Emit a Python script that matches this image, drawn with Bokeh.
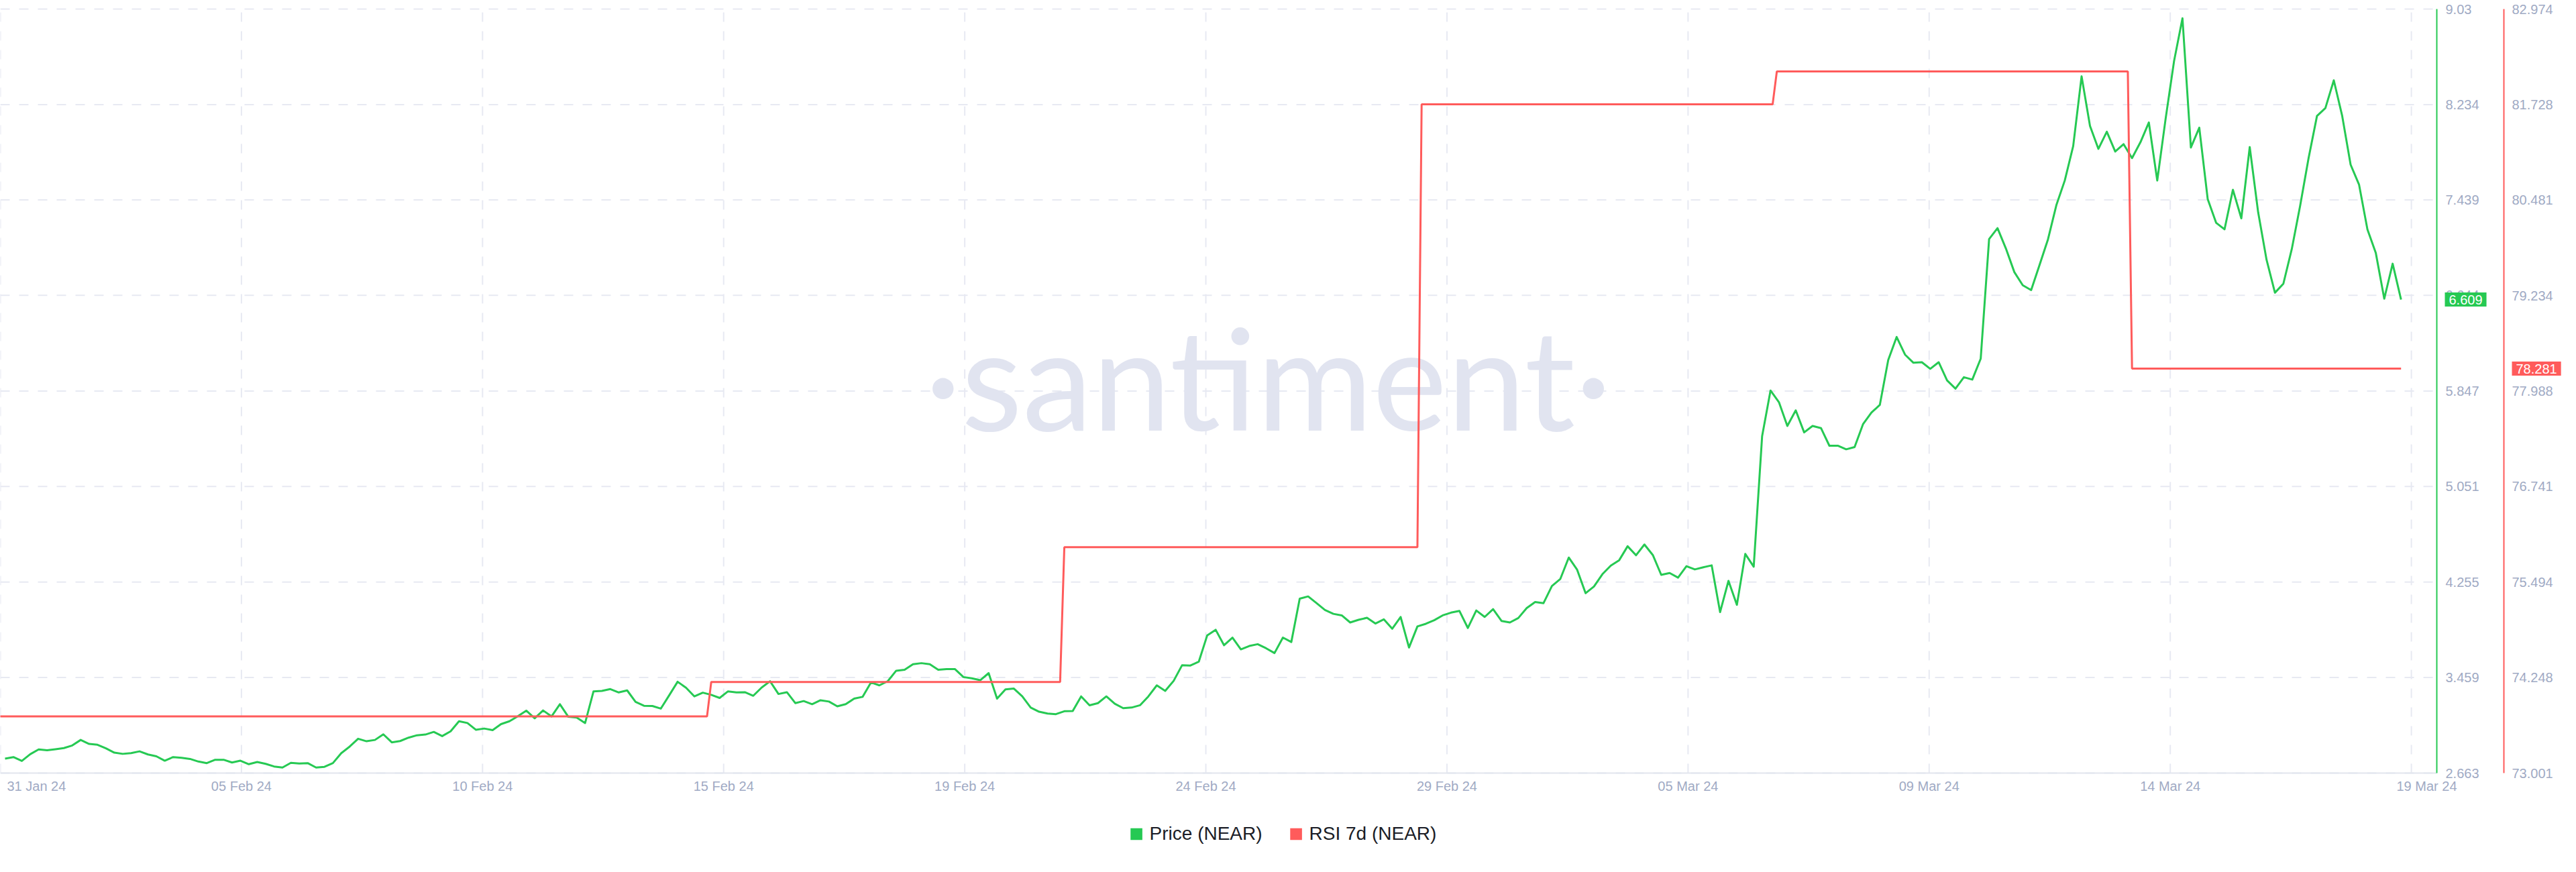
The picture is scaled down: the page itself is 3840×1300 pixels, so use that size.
import pandas as pd
from bokeh.plotting import figure
from bokeh.models import (Range1d, LinearAxis, FixedTicker, Legend, LegendItem, Label)
from bokeh.embed import file_html
from bokeh.resources import INLINE

# ---------------- data ----------------
price_start = "2024-01-31 19:00"
price_step_hours = 4
price_values = [
    2.783, 2.796, 2.764, 2.820, 2.860, 2.853, 2.862, 2.871, 2.893, 2.939,
    2.906, 2.899, 2.869, 2.833, 2.823, 2.829, 2.844, 2.818, 2.803, 2.766,
    2.796, 2.790, 2.781, 2.759, 2.746, 2.774, 2.774, 2.751, 2.766, 2.737,
    2.755, 2.740, 2.718, 2.709, 2.748, 2.742, 2.746, 2.709, 2.715, 2.746,
    2.829, 2.884, 2.949, 2.928, 2.939, 2.986, 2.919, 2.930,
    2.958, 2.978, 2.984, 3.006, 2.971, 3.011, 3.095, 3.080, 3.024, 3.034,
    3.021, 3.071, 3.095, 3.137, 3.183, 3.119, 3.185, 3.135, 3.237, 3.132,
    3.126, 3.080, 3.344, 3.348, 3.363, 3.335, 3.352, 3.256, 3.224, 3.222,
    3.200, 3.311, 3.424, 3.374, 3.302, 3.333, 3.315, 3.289, 3.344, 3.335,
    3.337, 3.307, 3.376, 3.428, 3.322, 3.337, 3.246, 3.263,
    3.237, 3.270, 3.259, 3.219, 3.237, 3.283, 3.298, 3.418, 3.394, 3.429,
    3.516, 3.524, 3.570, 3.579, 3.570, 3.524, 3.529, 3.529, 3.463, 3.453,
    3.437, 3.496, 3.283, 3.361, 3.367, 3.302, 3.209, 3.174, 3.159, 3.154,
    3.178, 3.180, 3.302, 3.228, 3.246, 3.302, 3.241, 3.204, 3.209, 3.228,
    3.302, 3.394, 3.348, 3.431, 3.561, 3.559, 3.592, 3.811,
    3.857, 3.728, 3.792, 3.694, 3.722, 3.737, 3.703, 3.663, 3.792, 3.755,
    4.116, 4.135, 4.079, 4.022, 3.990, 3.977, 3.918, 3.940, 3.957, 3.909,
    3.944, 3.866, 3.964, 3.709, 3.885, 3.907, 3.937, 3.977, 4.000, 4.014,
    3.872, 4.018, 3.964, 4.029, 3.931, 3.918, 3.955, 4.038, 4.088, 4.079,
    4.222, 4.281, 4.459, 4.357, 4.162, 4.218, 4.320, 4.392,
    4.437, 4.553, 4.478, 4.568, 4.480, 4.315, 4.330, 4.292, 4.387, 4.360,
    4.378, 4.394, 4.004, 4.265, 4.065, 4.489, 4.383, 5.470, 5.851, 5.754,
    5.556, 5.686, 5.502, 5.556, 5.538, 5.391, 5.391, 5.361, 5.380, 5.570,
    5.667, 5.731, 6.105, 6.297, 6.150, 6.082, 6.087, 6.032, 6.087, 5.935,
    5.867, 5.962, 5.942, 6.116, 7.113, 7.204, 7.034,
    6.838, 6.728, 6.688, 6.897, 7.110, 7.396, 7.601, 7.887, 8.469, 8.056,
    7.865, 8.008, 7.843, 7.904, 7.788, 7.920, 8.085, 7.601, 8.118, 8.597,
    8.953, 7.876, 8.041, 7.447, 7.249, 7.194, 7.524, 7.286, 7.880, 7.337,
    6.941, 6.666, 6.741, 7.029, 7.392, 7.788, 8.139, 8.205, 8.436, 8.139,
    7.733, 7.568, 7.194, 6.996, 6.616, 6.908, 6.609,
]

rsi_change_dates = ["2024-01-31 16:00", "2024-02-14 18:00", "2024-02-21 18:00",
                    "2024-02-28 20:00", "2024-03-06 21:00", "2024-03-13 22:00"]
rsi_values = [73.74, 74.19, 75.95, 81.73, 82.16, 78.281]

price_ticks = [2.663, 3.459, 4.255, 5.051, 5.847, 6.644, 7.439, 8.234, 9.03]
price_tick_labels = ["2.663", "3.459", "4.255", "5.051", "5.847", "6.644", "7.439", "8.234", "9.03"]
rsi_ticks = [73.001, 74.248, 75.494, 76.741, 77.988, 79.234, 80.481, 81.728, 82.974]
rsi_tick_labels = ["73.001", "74.248", "75.494", "76.741", "77.988", "79.234", "80.481", "81.728", "82.974"]
x_tick_labels = ["31 Jan 24", "05 Feb 24", "10 Feb 24", "15 Feb 24", "19 Feb 24", "24 Feb 24",
                 "29 Feb 24", "05 Mar 24", "09 Mar 24", "14 Mar 24", "19 Mar 24"]

# ---------------- style / layout ----------------
GREEN = "#26c953"
RED = "#ff5b5b"
MUTED = "#9faac4"
GRID = "#e7e9f2"
FONT = "Liberation Sans"
MS_H = 3_600_000
MS_D = 24 * MS_H

W, H = 3824, 1284          # the frame fills the whole canvas (page x 8..3832, y 8..1292)
PLOT_W = 3632              # chart area (up to the price axis)
Y_TOP_PX = 13              # frame px from top to the top tick
Y_BOT_PX = 1160 - 8        # frame px from top to the bottom tick

t_price = pd.date_range(price_start, periods=len(price_values), freq=f"{price_step_hours}h")
x_price = (t_price.asi8 // 10**6).tolist()

x_start = x_price[0] - int(2.23 * MS_H)
span = int(48.3015 * MS_D)                       # maps onto PLOT_W pixels
x_green = x_start + span                         # price axis position
x_red = x_start + int(span * 3732 / PLOT_W)      # RSI axis position
x_end = x_start + int(span * W / PLOT_W)

grid_ticks = [x_start + int(k * 0.098956 * span) for k in range(11)]
label_ticks = list(grid_ticks)
label_ticks[0] = x_start + int(span * 54 / 3640)
label_ticks[-1] = x_start + int(span * 3625 / 3640)


def padded(lo, hi):
    per_px = (hi - lo) / (Y_BOT_PX - Y_TOP_PX)
    return Range1d(lo - per_px * (H - Y_BOT_PX), hi + per_px * Y_TOP_PX)


# RSI step line
rsi_t = [pd.Timestamp(d).value // 10**6 for d in rsi_change_dates]
rsi_x = [rsi_t[0]]
rsi_y = [rsi_values[0]]
for i in range(1, len(rsi_t)):
    rsi_x += [rsi_t[i] - MS_H, rsi_t[i] + MS_H]
    rsi_y += [rsi_values[i - 1], rsi_values[i]]
rsi_x.append(x_price[-1])
rsi_y.append(rsi_values[-1])

p = figure(width=W, height=H, output_backend="svg", toolbar_location=None,
           x_range=Range1d(x_start, x_end), y_range=padded(price_ticks[0], price_ticks[-1]),
           x_axis_location=None, y_axis_location=None,
           min_border=0, background_fill_color="white", border_fill_color="white")
p.outline_line_color = None
p.grid.visible = False
p.extra_y_ranges = {"rsi": padded(rsi_ticks[0], rsi_ticks[-1])}

# dashed grid, limited to the chart area
p.segment(x0=[x_start] * len(price_ticks), x1=[x_green] * len(price_ticks),
          y0=price_ticks, y1=price_ticks, line_color=GRID, line_width=2,
          line_dash="14 14", level="underlay")
p.segment(x0=grid_ticks, x1=grid_ticks, y0=[price_ticks[0]] * len(grid_ticks),
          y1=[price_ticks[-1]] * len(grid_ticks), line_color=GRID, line_width=2,
          line_dash="14 14", level="underlay")

# watermark
p.add_layout(Label(x=1890, y=H + 8 - 568, x_units="screen", y_units="screen",
                   text="\u00b7santiment\u00b7", text_align="center", text_baseline="middle",
                   text_font="Lato", text_font_size="210px", text_color="#e1e4f0",
                   level="underlay"))

# series
p.line(x_price, price_values, line_color=GREEN, line_width=3, line_join="round")
p.line(rsi_x, rsi_y, line_color=RED, line_width=3, y_range_name="rsi")


def style_axis(ax):
    ax.major_tick_line_color = None
    ax.minor_tick_line_color = None
    ax.major_tick_out = 0
    ax.major_tick_in = 0
    ax.minor_tick_out = 0
    ax.major_label_text_color = MUTED
    ax.major_label_text_font = FONT
    ax.major_label_text_font_size = "20px"


xax = LinearAxis(fixed_location=price_ticks[0], bounds=(x_start, x_green))
style_axis(xax)
xax.ticker = FixedTicker(ticks=label_ticks)
xax.major_label_overrides = dict(zip(label_ticks, x_tick_labels))
xax.axis_line_color = "#e2e5ee"
xax.axis_line_width = 2
xax.major_label_standoff = 8
p.add_layout(xax, "below")

yax = LinearAxis(fixed_location=x_green, bounds=(price_ticks[0], price_ticks[-1]))
style_axis(yax)
yax.ticker = FixedTicker(ticks=price_ticks)
yax.major_label_overrides = dict(zip(price_ticks, price_tick_labels))
yax.axis_line_color = GREEN
yax.axis_line_width = 2
yax.major_label_standoff = 13
p.add_layout(yax, "right")

rax = LinearAxis(y_range_name="rsi", fixed_location=x_red, bounds=(rsi_ticks[0], rsi_ticks[-1]))
style_axis(rax)
rax.ticker = FixedTicker(ticks=rsi_ticks)
rax.major_label_overrides = dict(zip(rsi_ticks, rsi_tick_labels))
rax.axis_line_color = RED
rax.axis_line_width = 2
rax.major_label_standoff = 12
p.add_layout(rax, "right")

# last-value badges (drawn above the axis labels)
p.add_layout(Label(x=3644, y=price_values[-1], x_units="screen", text=f"{price_values[-1]:.3f}",
                   text_align="left", text_baseline="middle", text_color="white", text_font=FONT,
                   text_font_size="20px", background_fill_color=GREEN, level="overlay",
                   padding=dict(left=6, right=6, top=4, bottom=3)))
p.add_layout(Label(x=3744, y=rsi_values[-1], x_units="screen", y_range_name="rsi",
                   text=f"{rsi_values[-1]:.3f}", text_align="left", text_baseline="middle",
                   text_color="white", text_font=FONT, text_font_size="20px", level="overlay",
                   background_fill_color=RED, padding=dict(left=6, right=6, top=4, bottom=3)))

# legend swatches: zero-size squares at the last points of each series
g_sq = p.quad(left=[x_price[-1]], right=[x_price[-1]], top=[price_values[-1]],
              bottom=[price_values[-1]], fill_color=GREEN, line_color=None)
r_sq = p.quad(left=[x_price[-1]], right=[x_price[-1]], top=[rsi_values[-1]],
              bottom=[rsi_values[-1]], fill_color=RED, line_color=None, y_range_name="rsi")
legend = Legend(items=[LegendItem(label="Price (NEAR)", renderers=[g_sq]),
                       LegendItem(label="RSI 7d (NEAR)", renderers=[r_sq])],
                orientation="horizontal", location="bottom_center",
                glyph_width=22, glyph_height=22, label_standoff=9, spacing=39,
                padding=0, margin=25, background_fill_alpha=0, border_line_alpha=0,
                label_text_font=FONT, label_text_font_size="28px", label_text_color="#1b1d26",
                label_text_baseline="middle")
p.add_layout(legend)

open("out.html", "w").write(file_html(p, INLINE))
